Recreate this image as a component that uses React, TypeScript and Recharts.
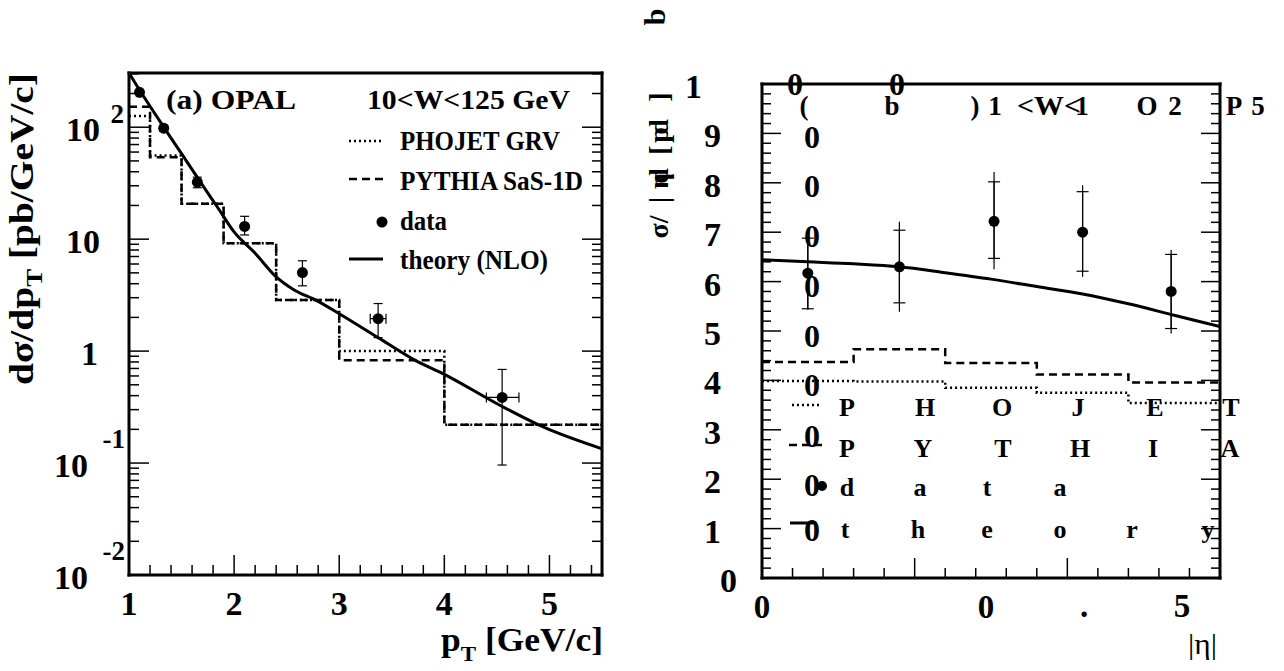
import React from 'react';
import { ComposedChart, Line, Scatter, XAxis, YAxis, ErrorBar } from 'recharts';

const SERIF = '"Liberation Serif", "Times New Roman", Times, serif';
const INK = '#000';

// ===== Panel (a): dsigma/dpT versus pT (log scale) =====
const ptX = [1.1, 1.33, 1.65, 2.1, 2.65, 3.37, 4.55];
const ptY = [205, 98, 32.3, 13.0, 5.03, 1.95, 0.386];
const ptYErrLow = [9, 6, 3.5, 2.1, 1.2, 0.63, 0.29];
const ptYErrHigh = [9, 6, 3.5, 3.0, 1.38, 0.71, 0.3];
const ptXErrLow = [0, 0, 0, 0, 0, 0.075, 0.15];
const ptXErrHigh = [0, 0, 0, 0, 0, 0.075, 0.16];
const ptBinEdges = [1.0, 1.2, 1.5, 1.9, 2.4, 3.0, 4.0, 5.5];
const ptPhojet = [126, 56, 20.7, 9.2, 2.86, 1.0, 0.22];
const ptPythia = [152, 54, 20.7, 9.2, 2.86, 0.83, 0.22];
const ptTheoryX = [1.0, 1.1, 1.2, 1.34, 1.5, 1.68, 1.85, 2.0, 2.2, 2.39, 2.56, 2.79, 3.0, 3.37, 3.71, 4.0, 4.55, 4.94, 5.5];
const ptTheoryY = [305, 215, 154, 97, 58, 32.3, 18.8, 11.6, 7.5, 4.7, 3.57, 2.81, 2.16, 1.32, 0.84, 0.62, 0.32, 0.21, 0.134];
const ptDomain = [1, 5.5];
const ptMajorTicks = [1, 2, 3, 4, 5];
const ptMajorLabels = ['1', '2', '3', '4', '5'];
const xsDomain = [0.01, 305];
const xsMajorTicks = [0.01, 0.1, 1, 10, 100];
const xsTickBase = ['10', '10', '1', '10', '10'];
const xsTickExp = ['-2', '-1', '', '', '2'];

// ===== Panel (b): dsigma/d|eta| versus |eta| =====
const etaX = [0.15, 0.45, 0.76, 1.05, 1.34];
const etaY = [6.17, 6.3, 7.22, 7.0, 5.8];
const etaStatLow = [0.72, 0.73, 0.75, 0.79, 0.75];
const etaStatHigh = [0.71, 0.74, 0.8, 0.82, 0.75];
const etaTotLow = [0.74, 0.91, 0.97, 0.9, 0.85];
const etaTotHigh = [0.71, 0.91, 1.0, 0.95, 0.84];
const etaBinEdges = [0, 0.3, 0.6, 0.9, 1.2, 1.5];
const etaPhojet = [3.99, 3.98, 3.85, 3.75, 3.54];
const etaPythia = [4.37, 4.63, 4.35, 4.12, 3.96];
const etaTheoryX = [0, 0.15, 0.3, 0.45, 0.6, 0.75, 0.9, 1.05, 1.2, 1.35, 1.5];
const etaTheoryY = [6.44, 6.4, 6.36, 6.3, 6.18, 6.05, 5.9, 5.75, 5.55, 5.32, 5.09];
const etaDomain = [0, 1.5];
const etaMajorTicks = [0, 0.5, 1.0, 1.5];
const etaLabelTicks = [0];
const etaLabels = ['0'];
const sigDomain = [0, 10];
const sigMajorTicks = [0, 1, 2, 3, 4, 5, 6, 7, 8, 9, 10];
const sigTickLabels = ['0', '1', '2', '3', '4', '5', '6', '7', '8', '9', '1'];

// ---- helpers ----
const near = (a: number, b: number) => Math.abs(a - b) <= 1e-6 * Math.max(Math.abs(a), Math.abs(b), 1e-9);
const idxOf = (arr: number[], v: number) => arr.findIndex((m) => near(m, v));
const stepTicks = (a: number, b: number, s: number) => {
  const out: number[] = [];
  for (let v = a; v <= b + 1e-9; v += s) out.push(Math.round(v * 1000) / 1000);
  return out;
};
const logTicks = (lo: number, hi: number) => {
  const out: number[] = [];
  for (let d = lo; d <= hi; d++) for (let m = 1; m <= 9; m++) out.push(+(m * Math.pow(10, d)).toPrecision(6));
  return out;
};
const ptAllTicks = stepTicks(1, 5.4, 0.2);
const xsAllTicks = logTicks(-2, 2).filter((v) => v <= 305);
const etaAllTicks = stepTicks(0, 1.5, 0.1);
const sigAllTicks = stepTicks(0, 10, 0.2);

const hist = (edges: number[], vals: number[]) =>
  edges.map((e, i) => ({ x: e, y: vals[Math.min(i, vals.length - 1)] }));
const curve = (xs: number[], ys: number[]) => xs.map((x, i) => ({ x, y: ys[i] }));

const ptPoints = ptX.map((x, i) => ({ x, y: ptY[i], ey: [ptYErrLow[i], ptYErrHigh[i]], ex: [ptXErrLow[i], ptXErrHigh[i]] }));
const etaPoints = etaX.map((x, i) => ({
  x,
  y: etaY[i],
  stat: [etaStatLow[i], etaStatHigh[i]],
  tot: [etaTotLow[i], etaTotHigh[i]],
}));

type Side = 'bottom' | 'top' | 'left' | 'right';
function makeTick(
  side: Side,
  majors: number[],
  majorLen: number,
  minorLen: number,
  label?: (v: number, x: number, y: number) => React.ReactNode
) {
  return (props: any) => {
    const { x, y, payload } = props;
    const v = payload.value;
    const major = idxOf(majors, v) >= 0;
    const len = major ? majorLen : minorLen;
    let x2 = x;
    let y2 = y;
    if (side === 'bottom') y2 = y - len;
    else if (side === 'top') y2 = y + len;
    else if (side === 'left') x2 = x + len;
    else x2 = x - len;
    return (
      <g>
        <line x1={x} y1={y} x2={x2} y2={y2} stroke={INK} strokeWidth={1.5} />
        {label ? label(v, x, y) : null}
      </g>
    );
  };
}

const numStyle = { fontFamily: SERIF, fontWeight: 'bold' as const, fill: INK };

const ptBottomTick = makeTick('bottom', ptMajorTicks, 20, 10, (v, x, y) => {
  const i = idxOf(ptMajorTicks, v);
  if (i < 0) return null;
  return (
    <text x={x} y={y + 40} textAnchor="middle" fontSize={34} {...numStyle}>
      {ptMajorLabels[i]}
    </text>
  );
});
const ptTopTick = makeTick('top', ptMajorTicks, 20, 10);
const xsLeftTick = makeTick('left', xsMajorTicks, 20, 10, (v, x, y) => {
  const i = idxOf(xsMajorTicks, v);
  if (i < 0) return null;
  const exp = xsTickExp[i];
  if (exp === '') {
    return (
      <text x={x - (xsTickBase[i] === '1' ? 31 : 29)} y={y + 14} textAnchor="end" fontSize={34} {...numStyle}>
        {xsTickBase[i]}
      </text>
    );
  }
  const neg = exp.startsWith('-');
  return (
    <g>
      <text x={x - (neg ? 41 : 29)} y={y + 14} textAnchor="end" fontSize={34} {...numStyle}>
        {xsTickBase[i]}
      </text>
      <text x={x - (neg ? 4 : 5)} y={y + (neg ? -15 : -4)} textAnchor="end" fontSize={27} {...numStyle}>
        {exp}
      </text>
    </g>
  );
});
const xsRightTick = makeTick('right', xsMajorTicks, 20, 10);

const etaBottomTick = makeTick('bottom', etaMajorTicks, 20, 10, (v, x, y) => {
  const i = idxOf(etaLabelTicks, v);
  if (i < 0) return null;
  return (
    <text x={x} y={y + 40} textAnchor="middle" fontSize={33} {...numStyle}>
      {etaLabels[i]}
    </text>
  );
});
const etaTopTick = makeTick('top', etaMajorTicks, 20, 10);
const sigLeftTick = makeTick('left', sigMajorTicks, 19, 9, (v, x, y) => {
  const i = idxOf(sigMajorTicks, v);
  if (i < 0) return null;
  const dx = i === 0 ? -25 : i === 10 ? -60 : -41;
  return (
    <text x={x + dx} y={y + 14} textAnchor="end" fontSize={34} {...numStyle}>
      {sigTickLabels[i]}
    </text>
  );
});
const sigRightTick = makeTick('right', sigMajorTicks, 19, 9);

const frameLine = { stroke: INK, strokeWidth: 3, strokeLinecap: 'square' as const };
const axisCommon = {
  tickLine: false,
  tickSize: 0,
  tickMargin: 0,
  interval: 0 as const,
  axisLine: frameLine,
  allowDataOverflow: true,
};

const Dot = (props: any) => <circle cx={props.cx} cy={props.cy} r={5.5} fill={INK} />;

const DOTTED = '2 3';
const DASHED = '8 5';

function Txt(p: {
  x: number;
  y: number;
  size: number;
  len?: number;
  anchor?: 'start' | 'middle' | 'end';
  weight?: string;
  rotate?: number;
  children: React.ReactNode;
}) {
  const { x, y, size, len, anchor = 'start', weight = 'bold', rotate, children } = p;
  return (
    <text
      x={x}
      y={y}
      fontSize={size}
      fontFamily={SERIF}
      fontWeight={weight}
      textAnchor={anchor}
      fill={INK}
      textLength={len}
      lengthAdjust={len ? 'spacingAndGlyphs' : undefined}
      transform={rotate ? `rotate(${rotate} ${x} ${y})` : undefined}
    >
      {children}
    </text>
  );
}

function PanelA() {
  return (
    <ComposedChart width={640} height={671} margin={{ top: 72, right: 37, bottom: 95, left: 128 }}>
      <XAxis dataKey="x" type="number" domain={ptDomain} ticks={ptAllTicks} height={1} tick={ptBottomTick} {...axisCommon} />
      <XAxis xAxisId="top" orientation="top" type="number" domain={ptDomain} ticks={ptAllTicks} height={1} tick={ptTopTick} {...axisCommon} />
      <YAxis type="number" scale="log" domain={xsDomain} ticks={xsAllTicks} width={1} tick={xsLeftTick} {...axisCommon} />
      <YAxis yAxisId="right" orientation="right" type="number" scale="log" domain={xsDomain} ticks={xsAllTicks} width={1} tick={xsRightTick} {...axisCommon} />
      <Line data={hist(ptBinEdges, ptPhojet)} dataKey="y" type="stepAfter" stroke={INK} strokeWidth={2.5} strokeDasharray={DOTTED} dot={false} isAnimationActive={false} />
      <Line data={hist(ptBinEdges, ptPythia)} dataKey="y" type="stepAfter" stroke={INK} strokeWidth={2.5} strokeDasharray={DASHED} dot={false} isAnimationActive={false} />
      <Line data={curve(ptTheoryX, ptTheoryY)} dataKey="y" type="monotone" stroke={INK} strokeWidth={3} dot={false} isAnimationActive={false} />
      <Scatter data={ptPoints} dataKey="y" shape={Dot} isAnimationActive={false}>
        <ErrorBar dataKey="ey" direction="y" width={4.5} stroke={INK} strokeWidth={1.2} />
        <ErrorBar dataKey="ex" direction="x" width={5} stroke={INK} strokeWidth={1.2} />
      </Scatter>
    </ComposedChart>
  );
}

function PanelB() {
  return (
    <ComposedChart width={644} height={671} margin={{ top: 83, right: 63, bottom: 92, left: 121 }}>
      <XAxis dataKey="x" type="number" domain={etaDomain} ticks={etaAllTicks} height={1} tick={etaBottomTick} {...axisCommon} />
      <XAxis xAxisId="top" orientation="top" type="number" domain={etaDomain} ticks={etaAllTicks} height={1} tick={etaTopTick} {...axisCommon} />
      <YAxis type="number" domain={sigDomain} ticks={sigAllTicks} width={1} tick={sigLeftTick} {...axisCommon} />
      <YAxis yAxisId="right" orientation="right" type="number" domain={sigDomain} ticks={sigAllTicks} width={1} tick={sigRightTick} {...axisCommon} />
      <Line data={hist(etaBinEdges, etaPhojet)} dataKey="y" type="stepAfter" stroke={INK} strokeWidth={2.5} strokeDasharray={DOTTED} dot={false} isAnimationActive={false} />
      <Line data={hist(etaBinEdges, etaPythia)} dataKey="y" type="stepAfter" stroke={INK} strokeWidth={2.5} strokeDasharray={DASHED} dot={false} isAnimationActive={false} />
      <Line data={curve(etaTheoryX, etaTheoryY)} dataKey="y" type="monotone" stroke={INK} strokeWidth={3} dot={false} isAnimationActive={false} />
      <Scatter data={etaPoints} dataKey="y" shape={Dot} isAnimationActive={false}>
        <ErrorBar dataKey="tot" direction="y" width={0} stroke={INK} strokeWidth={1.2} />
        <ErrorBar dataKey="stat" direction="y" width={6} stroke={INK} strokeWidth={1.2} />
      </Scatter>
    </ComposedChart>
  );
}

function Overlay() {
  const zeroYs = [137, 186, 236, 286, 336, 385, 436, 485, 530];
  const row1 = [['P', 847], ['H', 925], ['O', 1002], ['J', 1078], ['E', 1155], ['T', 1231]];
  const row2 = [['P', 847], ['Y', 923], ['T', 1003], ['H', 1080], ['I', 1153], ['A', 1230]];
  const row3 = [['d', 847], ['a', 920], ['t', 987], ['a', 1060]];
  const row4 = [['t', 845], ['h', 918], ['e', 987], ['o', 1060], ['r', 1132], ['y', 1208]];
  const title = [['(', 804], ['b', 892], [')', 975], ['1', 995], ['1', 1082], ['O', 1147], ['2', 1175], ['P', 1234], ['5', 1258]];
  const yTitle = [['σ/', 227], ['|', 200], ['η', 181], ['d', 176], ['[', 150], ['p', 135], ['d', 127], [']', 97]];
  return (
    <svg width={1284} height={671} style={{ position: 'absolute', left: 0, top: 0, pointerEvents: 'none' }}>
      {/* Panel (a) titles */}
      <text x={33} y={229} fontSize={34} fontFamily={SERIF} fontWeight="bold" textAnchor="middle" fill={INK}
        textLength={312} lengthAdjust="spacingAndGlyphs" transform="rotate(-90 33 229)">
        dσ/dp<tspan fontSize={23} dy={9}>T</tspan><tspan dy={-9}> [pb/GeV/c]</tspan>
      </text>
      <text x={441} y={651} fontSize={34} fontFamily={SERIF} fontWeight="bold" fill={INK}
        textLength={162} lengthAdjust="spacingAndGlyphs">
        p<tspan fontSize={22} dy={10}>T</tspan><tspan dy={-10}> [GeV/c]</tspan>
      </text>
      <Txt x={166} y={109} size={27} len={130}>(a) OPAL</Txt>
      <Txt x={367} y={109} size={27} len={203}>10&lt;W&lt;125 GeV</Txt>
      <Txt x={400} y={150} size={27} len={160}>PHOJET GRV</Txt>
      <Txt x={400} y={190} size={27} len={183}>PYTHIA SaS-1D</Txt>
      <Txt x={400} y={230} size={27} len={47}>data</Txt>
      <Txt x={400} y={269} size={27} len={148}>theory (NLO)</Txt>
      <line x1={349} y1={141} x2={383} y2={141} stroke={INK} strokeWidth={2.5} strokeDasharray={DOTTED} />
      <line x1={349} y1={179} x2={384} y2={179} stroke={INK} strokeWidth={2.5} strokeDasharray={DASHED} />
      <circle cx={382} cy={222} r={5.5} fill={INK} />
      <line x1={349} y1={259} x2={383} y2={259} stroke={INK} strokeWidth={3} />

      {/* Panel (b) garbled labels */}
      <Txt x={665} y={17} size={30} anchor="middle" rotate={-90}>b</Txt>
      {yTitle.map(([c, y], i) => (
        <Txt key={'yt' + i} x={668} y={y as number} size={28} anchor="middle" rotate={-90}>{c}</Txt>
      ))}
      {title.map(([c, x], i) => (
        <Txt key={'t' + i} x={x as number} y={115} size={27} anchor="middle">{c}</Txt>
      ))}
      <Txt x={1017} y={115} size={27} len={64}>&lt;W&lt;</Txt>
      <Txt x={795} y={95} size={32} anchor="middle">0</Txt>
      <Txt x={897} y={95} size={32} anchor="middle">0</Txt>
      {zeroYs.map((y, i) => (
        <Txt key={'z' + i} x={812} y={y + 11} size={32} anchor="middle">0</Txt>
      ))}
      {row1.map(([c, x], i) => (<Txt key={'r1' + i} x={x as number} y={416} size={26} anchor="middle">{c}</Txt>))}
      {row2.map(([c, x], i) => (<Txt key={'r2' + i} x={x as number} y={457} size={26} anchor="middle">{c}</Txt>))}
      {row3.map(([c, x], i) => (<Txt key={'r3' + i} x={x as number} y={496} size={26} anchor="middle">{c}</Txt>))}
      {row4.map(([c, x], i) => (<Txt key={'r4' + i} x={x as number} y={538} size={26} anchor="middle">{c}</Txt>))}
      <line x1={792} y1={405} x2={821} y2={405} stroke={INK} strokeWidth={2.5} strokeDasharray={DOTTED} />
      <line x1={789} y1={445} x2={822} y2={445} stroke={INK} strokeWidth={2.5} strokeDasharray={DASHED} />
      <circle cx={822} cy={486} r={5} fill={INK} />
      <line x1={790} y1={523} x2={814} y2={523} stroke={INK} strokeWidth={3} />
      <Txt x={986} y={618} size={33} anchor="middle">0</Txt>
      <Txt x={1084} y={617} size={33} anchor="middle">.</Txt>
      <Txt x={1182} y={617} size={33} anchor="middle">5</Txt>
      <Txt x={1188} y={654} size={30} len={29} weight="normal">|η|</Txt>
    </svg>
  );
}

export default function App() {
  return (
    <div style={{ position: 'absolute', left: 0, top: 0, width: 1284, height: 671, background: '#fff', overflow: 'hidden' }}>
      <div style={{ position: 'absolute', left: 0, top: 0 }}>
        <PanelA />
      </div>
      <div style={{ position: 'absolute', left: 640, top: 0 }}>
        <PanelB />
      </div>
      <Overlay />
    </div>
  );
}
